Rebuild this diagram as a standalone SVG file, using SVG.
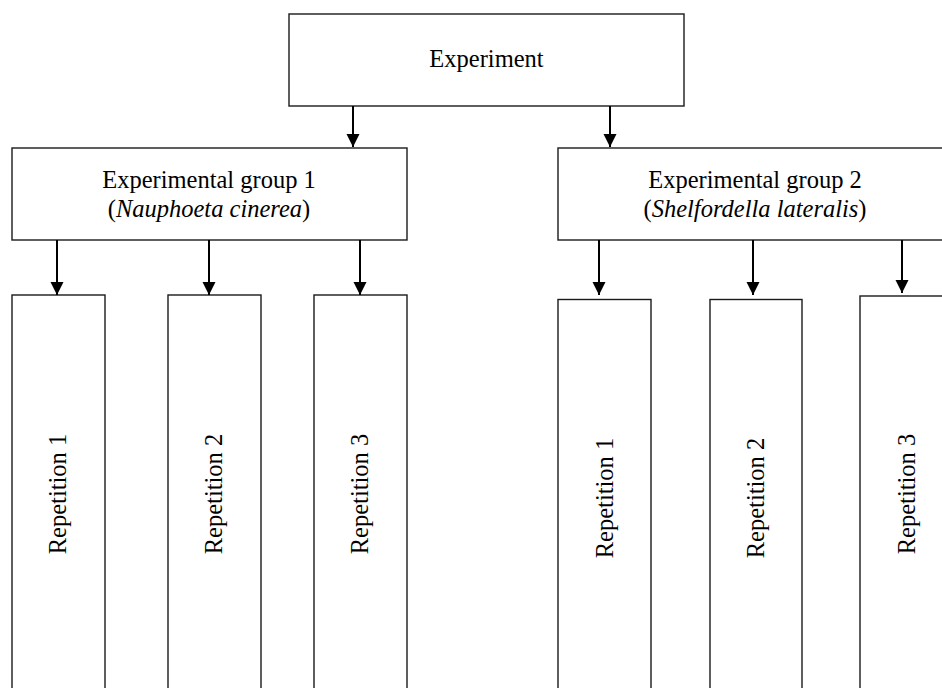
<svg xmlns="http://www.w3.org/2000/svg" width="942" height="688" viewBox="0 0 942 688">
<style>
.box{fill:#fff;stroke:#1a1a1a;stroke-width:1.4}
.t{font-family:"Liberation Serif","Times New Roman",serif;font-size:24.5px;fill:#000;text-anchor:middle}
.it{font-style:italic}
.conn{stroke:#000;stroke-width:2;fill:none}
</style>
<defs>
<marker id="ah" markerUnits="userSpaceOnUse" markerWidth="14" markerHeight="14" refX="13" refY="6.5" orient="auto">
<path d="M0,0 L13,6.5 L0,13 Z" fill="#000"/>
</marker>
</defs>
<rect x="0" y="0" width="942" height="688" fill="#fff"/>
<g id="experiment">
<rect class="box" x="289" y="14" width="395" height="92"/>
<text class="t" x="486.5" y="67">Experiment</text>
</g>
<g id="group1">
<rect class="box" x="12" y="148" width="395" height="92"/>
<text class="t" x="209" y="188">Experimental group 1</text>
<text class="t" x="209" y="217">(<tspan class="it">Nauphoeta cinerea</tspan>)</text>
</g>
<g id="group2">
<rect class="box" x="558" y="148" width="394" height="92"/>
<text class="t" x="755" y="188">Experimental group 2</text>
<text class="t" x="755" y="217">(<tspan class="it">Shelfordella lateralis</tspan>)</text>
</g>
<g id="g1rep1">
<rect class="box" x="12" y="295" width="93" height="410"/>
<text class="t" transform="translate(66,494) rotate(-90)">Repetition 1</text>
</g>
<g id="g1rep2">
<rect class="box" x="168" y="295" width="93" height="410"/>
<text class="t" transform="translate(222,494) rotate(-90)">Repetition 2</text>
</g>
<g id="g1rep3">
<rect class="box" x="314" y="295" width="93" height="410"/>
<text class="t" transform="translate(368,494) rotate(-90)">Repetition 3</text>
</g>
<g id="g2rep1">
<rect class="box" x="558" y="299.5" width="93" height="410"/>
<text class="t" transform="translate(613,498) rotate(-90)">Repetition 1</text>
</g>
<g id="g2rep2">
<rect class="box" x="710" y="299.5" width="92" height="410"/>
<text class="t" transform="translate(764,498) rotate(-90)">Repetition 2</text>
</g>
<g id="g2rep3">
<rect class="box" x="860" y="296" width="93" height="410"/>
<text class="t" transform="translate(915,494) rotate(-90)">Repetition 3</text>
</g>
<g id="connectors">
<line class="conn" x1="353" y1="106" x2="353" y2="147" marker-end="url(#ah)"/>
<line class="conn" x1="610" y1="106" x2="610" y2="147" marker-end="url(#ah)"/>
<line class="conn" x1="57" y1="240" x2="57" y2="295" marker-end="url(#ah)"/>
<line class="conn" x1="209" y1="240" x2="209" y2="295" marker-end="url(#ah)"/>
<line class="conn" x1="360" y1="240" x2="360" y2="295" marker-end="url(#ah)"/>
<line class="conn" x1="599" y1="240" x2="599" y2="295" marker-end="url(#ah)"/>
<line class="conn" x1="753" y1="240" x2="753" y2="295" marker-end="url(#ah)"/>
<line class="conn" x1="902" y1="240" x2="902" y2="293" marker-end="url(#ah)"/>
</g>
</svg>
